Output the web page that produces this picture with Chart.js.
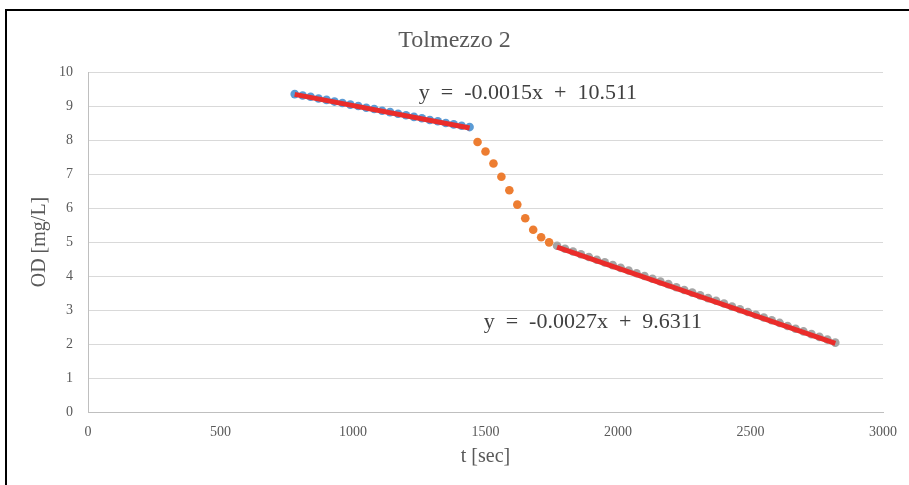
<!DOCTYPE html>
<html>
<head>
<meta charset="utf-8">
<script src="https://cdn.jsdelivr.net/npm/chart.js@4"></script>
<style>
  html, body { margin: 0; padding: 0; background: #fff; }
  .wrap { position: relative; width: 909px; height: 485px; }
  .frame {
    position: absolute; left: 5px; top: 9px; width: 940px; height: 500px;
    border: 2px solid #000; pointer-events: none;
  }
</style>
</head>
<body>
<div class="wrap">
  <canvas id="odChart" width="909" height="485"></canvas>
  <div class="frame"></div>
</div>
<script>
// Measured values (30 s sampling)
const tFirst = [780, 810, 840, 870, 900, 930, 960, 990, 1020, 1050, 1080, 1110,
  1140, 1170, 1200, 1230, 1260, 1290, 1320, 1350, 1380, 1410, 1440];
const odFirst = [9.35, 9.31, 9.27, 9.22, 9.18, 9.13, 9.09, 9.04, 9.00, 8.95, 8.91, 8.86,
  8.82, 8.77, 8.73, 8.68, 8.64, 8.59, 8.55, 8.50, 8.46, 8.42, 8.38];

const tDrop = [1470, 1500, 1530, 1560, 1590, 1620, 1650, 1680, 1710, 1740];
const odDrop = [7.94, 7.66, 7.31, 6.92, 6.52, 6.10, 5.70, 5.36, 5.14, 4.99];

const tSecond = [1770, 1800, 1830, 1860, 1890, 1920, 1950, 1980, 2010, 2040, 2070, 2100,
  2130, 2160, 2190, 2220, 2250, 2280, 2310, 2340, 2370, 2400, 2430, 2460,
  2490, 2520, 2550, 2580, 2610, 2640, 2670, 2700, 2730, 2760, 2790, 2820];
const odSecond = [4.89, 4.80, 4.72, 4.64, 4.56, 4.48, 4.40, 4.32, 4.24, 4.16, 4.08, 4.00,
  3.92, 3.84, 3.76, 3.67, 3.59, 3.51, 3.43, 3.35, 3.27, 3.19, 3.10, 3.02,
  2.94, 2.86, 2.78, 2.70, 2.62, 2.53, 2.45, 2.37, 2.29, 2.21, 2.13, 2.04];

// Linear fits shown on the chart
const fitSlope = [-0.0015, -0.0027];
const fitIntercept = [10.511, 9.6311];
const fitLabels = ['y  =  -0.0015x  +  10.511', 'y  =  -0.0027x  +  9.6311'];

const xTicks = [0, 500, 1000, 1500, 2000, 2500, 3000];

const toPoints = (xs, ys) => xs.map((x, i) => ({ x: x, y: ys[i] }));
const fitLine = (xs, k) => [xs[0], xs[xs.length - 1]].map(x => ({
  x: x, y: fitSlope[k] * x + fitIntercept[k]
}));

const serif = '"Liberation Serif", "DejaVu Serif", serif';
const grey = '#595959';

// Title centred on the whole picture, equations anchored in data units
const labelsPlugin = {
  id: 'labels',
  afterDatasetsDraw(chart) {
    const { ctx, scales } = chart;
    ctx.save();
    ctx.textAlign = 'center';
    ctx.textBaseline = 'middle';
    ctx.font = '24px ' + serif;
    ctx.fillStyle = grey;
    ctx.fillText('Tolmezzo 2', chart.width / 2, 41);

    const anchors = [{ x: 1660, y: 9.38 }, { x: 1905, y: 2.64 }];
    ctx.font = '22px ' + serif;
    ctx.fillStyle = '#404040';
    anchors.forEach((a, i) => {
      ctx.fillText(fitLabels[i], scales.x.getPixelForValue(a.x), scales.y.getPixelForValue(a.y));
    });
    ctx.restore();
  }
};

const ctx = document.getElementById('odChart').getContext('2d');
new Chart(ctx, {
  type: 'scatter',
  data: {
    datasets: [
      {
        label: 'fit 1',
        data: fitLine(tFirst, 0),
        showLine: true,
        borderColor: '#EA2C2A',
        borderWidth: 5,
        pointRadius: 0,
        order: 0
      },
      {
        label: 'fit 2',
        data: fitLine(tSecond, 1),
        showLine: true,
        borderColor: '#EA2C2A',
        borderWidth: 5,
        pointRadius: 0,
        order: 0
      },
      {
        label: 'first',
        data: toPoints(tFirst, odFirst),
        backgroundColor: '#5B9BD5',
        borderWidth: 0,
        pointRadius: 4.3,
        order: 1
      },
      {
        label: 'drop',
        data: toPoints(tDrop, odDrop),
        backgroundColor: '#ED7D31',
        borderWidth: 0,
        pointRadius: 4.3,
        order: 1
      },
      {
        label: 'second',
        data: toPoints(tSecond, odSecond),
        backgroundColor: '#A5A5A5',
        borderWidth: 0,
        pointRadius: 4.3,
        order: 1
      }
    ]
  },
  options: {
    responsive: false,
    animation: false,
    layout: { padding: { top: 72, left: 0, right: 24, bottom: 0 } },
    plugins: {
      legend: { display: false },
      tooltip: { enabled: false },
      title: { display: false }
    },
    scales: {
      x: {
        type: 'linear',
        min: 0,
        max: 3000,
        afterBuildTicks: axis => { axis.ticks = xTicks.map(v => ({ value: v })); },
        afterFit: axis => { axis.height = 73; },
        grid: { display: false, drawTicks: false },
        border: { display: true, color: '#BFBFBF', width: 1 },
        ticks: {
          color: grey,
          font: { family: serif, size: 14 },
          padding: 12,
          callback: v => String(v)
        },
        title: {
          display: true,
          text: 't [sec]',
          color: grey,
          font: { family: serif, size: 20 },
          padding: { top: 0, bottom: 16 }
        }
      },
      y: {
        min: 0,
        max: 10,
        afterFit: axis => { axis.width = 88; },
        grid: { color: '#D9D9D9', drawTicks: false },
        border: { display: true, color: '#BFBFBF', width: 1 },
        ticks: {
          stepSize: 1,
          color: grey,
          font: { family: serif, size: 14 },
          padding: 15,
          callback: v => String(v)
        },
        title: {
          display: true,
          text: 'OD [mg/L]',
          color: grey,
          font: { family: serif, size: 20 },
          padding: { top: 28, bottom: 0 }
        }
      }
    }
  },
  plugins: [labelsPlugin]
});
</script>
</body>
</html>
